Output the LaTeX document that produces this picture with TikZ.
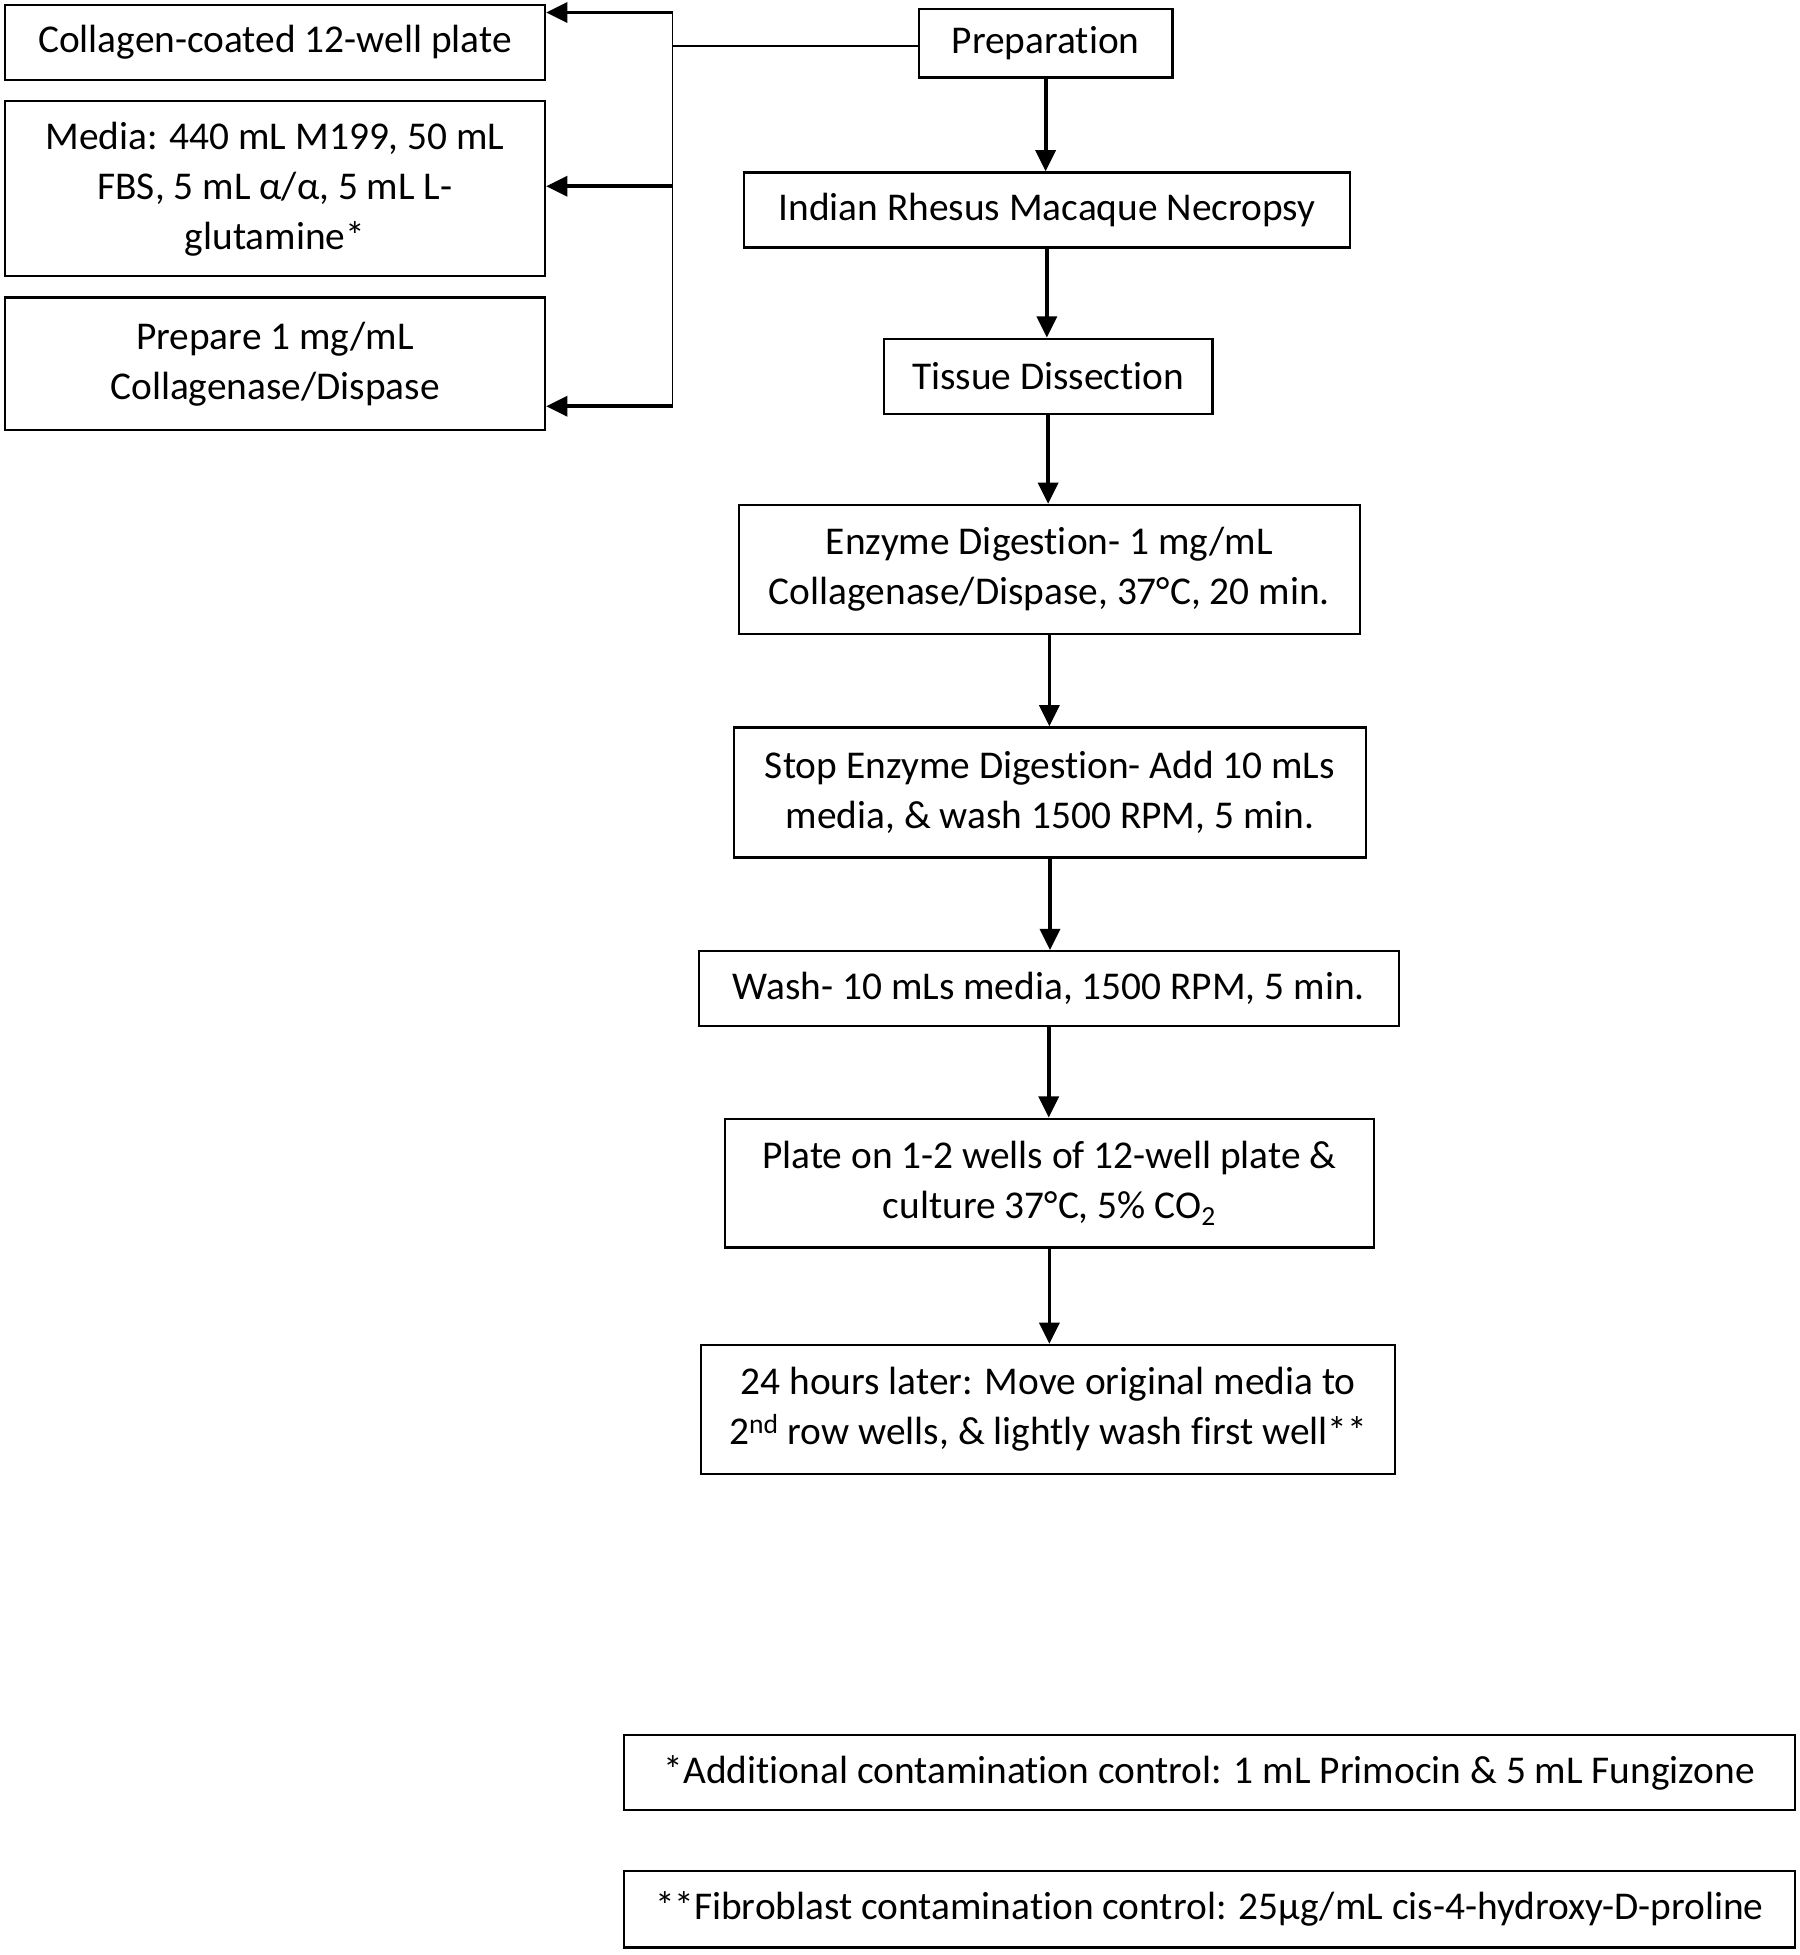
\documentclass[tikz,border=0pt]{standalone}
\usepackage{fontspec}
\setmainfont{Carlito}[Ligatures={NoCommon}]
\usetikzlibrary{arrows.meta}
\begin{document}
\begin{tikzpicture}[x=1pt,y=-1pt,
  box/.style={draw, line width=1.8pt, inner sep=0pt, align=center,
    font=\fontsize{31.5}{40}\selectfont},
  arr/.style={line width=3pt, -{Triangle[length=17pt,width=16pt]}},
  brk/.style={line width=1.5pt}]
\useasboundingbox (0,0) rectangle (1440,1564);
\fill[white] (0,0) rectangle (1440,1564);
% left column
\node[box, minimum width=432pt, minimum height=60pt] (c1) at (220,34) {Collagen-coated 12-well plate};
\node[box, minimum width=432pt, minimum height=140pt] (c2) at (220,151) {Media: 440 mL M199, 50 mL\\FBS, 5 mL α/α, 5 mL L-\\glutamine*};
\node[box, minimum width=432pt, minimum height=106pt] (c3) at (220,291) {Prepare 1 mg/mL\\Collagenase/Dispase};
% main column
\node[box, minimum width=203pt, minimum height=55pt] (prep) at (836.5,34.5) {Preparation};
\node[box, minimum width=485pt, minimum height=60pt] (nec) at (837.5,168) {Indian Rhesus Macaque Necropsy};
\node[box, minimum width=263pt, minimum height=60pt] (tis) at (838.5,301) {Tissue Dissection};
\node[box, minimum width=497pt, minimum height=103pt] (enz) at (839.5,455.5) {Enzyme Digestion- 1 mg/mL\\Collagenase/Dispase, 37°C, 20 min.};
\node[box, minimum width=506pt, minimum height=104pt] (stop) at (840,634) {Stop Enzyme Digestion- Add 10 mLs\\media, \& wash 1500 RPM, 5 min.};
\node[box, minimum width=560pt, minimum height=60pt] (wash) at (839,791) {Wash- 10 mLs media, 1500 RPM, 5 min.};
\node[box, minimum width=519pt, minimum height=103pt] (plate) at (839.5,946.5) {Plate on 1-2 wells of 12-well plate \&\\culture 37°C, 5\% CO\textsubscript{2}};
\node[box, minimum width=555pt, minimum height=103pt] (later) at (838.5,1127.5) {24 hours later: Move original media to\\2\textsuperscript{nd} row wells, \& lightly wash first well**};
% footnotes
\node[box, minimum width=937pt, minimum height=60pt] (f1) at (967.5,1418) {*Additional contamination control: 1 mL Primocin \& 5 mL Fungizone};
\node[box, minimum width=937pt, minimum height=61pt] (f2) at (967.5,1527.5) {**Fibroblast contamination control: 25µg/mL cis-4-hydroxy-D-proline};
% bracket
\coordinate (t1) at (538,10);
\coordinate (t2) at (538,149);
\coordinate (t3) at (538,325);
\draw[brk] ([yshift=-2.5pt]prep.west) -- ([yshift=-2.5pt]prep.west -| t1);
\draw[brk] (t1) -- (t3);
\draw[arr] (t1) -- (t1 -| c1.east);
\draw[arr] (t2) -- (t2 -| c2.east);
\draw[arr] (t3) -- (t3 -| c3.east);
% main arrows
\draw[arr] (prep.south) -- (prep.south |- nec.north);
\draw[arr] (nec.south) -- (nec.south |- tis.north);
\draw[arr] (tis.south) -- (tis.south |- enz.north);
\draw[arr] (enz.south) -- (enz.south |- stop.north);
\draw[arr] (stop.south) -- (stop.south |- wash.north);
\draw[arr] (wash.south) -- (wash.south |- plate.north);
\draw[arr] (plate.south) -- (plate.south |- later.north);
\end{tikzpicture}
\end{document}
